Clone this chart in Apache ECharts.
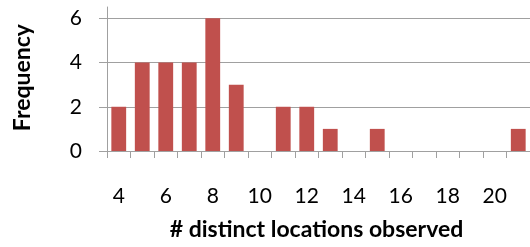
<!DOCTYPE html>
<html>
<head>
<meta charset="utf-8">
<script src="https://cdn.jsdelivr.net/npm/echarts@6/dist/echarts.min.js"></script>
<style>html,body{margin:0;padding:0;background:#fff}#c{width:530px;height:247px}</style>
</head>
<body>
<div id="c"></div>
<script>
const categories = ['4','5','6','7','8','9','10','11','12','13','14','15','16','17','18','19','20','21'];
const frequency = [2,4,4,4,6,3,0,2,2,1,0,1,0,0,0,0,0,1];
const yTicks = [0,2,4,6];
const xTitle = '# distinct locations observed';
const yTitle = 'Frequency';

const gray = '#a0a0a0';
const font = 'Lato, "Liberation Sans", sans-serif';
const chart = echarts.init(document.getElementById('c'));
chart.setOption({
  animation: false,
  backgroundColor: '#fff',
  grid: [
    { left: 107, top: 18.3, width: 428.4, height: 132.7, containLabel: false },
    { left: 107, top: 7, width: 428.4, height: 144, containLabel: false }
  ],
  xAxis: [{
    type: 'category',
    gridIndex: 0,
    data: categories,
    boundaryGap: true,
    axisLine: { show: true, lineStyle: { color: gray, width: 1 } },
    axisTick: { show: true, interval: 0, length: 7, lineStyle: { color: gray } },
    axisLabel: { interval: 1, margin: 35, color: '#000', fontSize: 21, fontFamily: font },
    name: xTitle,
    nameLocation: 'middle',
    nameGap: 67,
    nameTextStyle: { fontSize: 23, fontWeight: 'bold', color: '#000', fontFamily: font, padding: [0, 4, 0, 0] },
    splitLine: { show: false }
  }, {
    type: 'value',
    gridIndex: 1,
    show: false
  }],
  yAxis: [{
    type: 'value',
    gridIndex: 0,
    min: yTicks[0],
    max: yTicks[yTicks.length - 1],
    interval: 2,
    axisLine: { show: true, lineStyle: { color: gray, width: 1 } },
    axisTick: { show: true, length: 8, lineStyle: { color: gray } },
    axisLabel: { margin: 25, color: '#000', fontSize: 21, fontFamily: font },
    splitLine: { show: true, lineStyle: { color: gray, width: 1 } },
    name: yTitle,
    nameLocation: 'middle',
    nameGap: 73,
    nameRotate: 90,
    nameTextStyle: { fontSize: 23, fontWeight: 'bold', color: '#000', fontFamily: font, padding: [0, 0, 0, 14] }
  }, {
    type: 'value',
    gridIndex: 1,
    min: 0,
    max: 1,
    axisLine: { show: true, lineStyle: { color: gray, width: 1 } },
    axisTick: { show: false },
    axisLabel: { show: false },
    splitLine: { show: false }
  }],
  series: [{
    type: 'bar',
    xAxisIndex: 0,
    yAxisIndex: 0,
    data: frequency,
    barCategoryGap: '37%',
    itemStyle: { color: '#C0504D' }
  }]
});
</script>
</body>
</html>
